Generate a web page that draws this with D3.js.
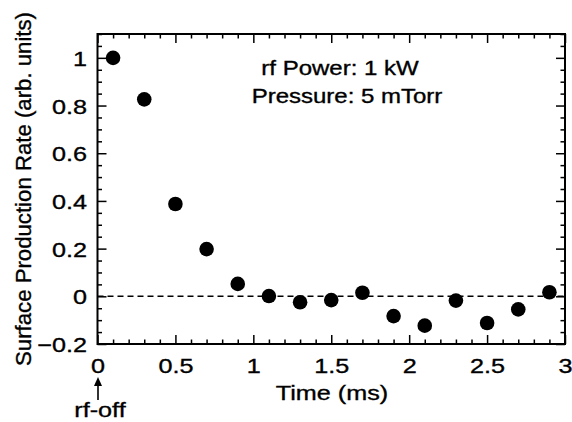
<!DOCTYPE html>
<html>
<head>
<meta charset="utf-8">
<script src="https://cdn.jsdelivr.net/npm/d3@7"></script>
<style>
  body { margin: 0; background: #fff; }
  text { font-family: "Liberation Sans", Arial, Helvetica, sans-serif; fill: #000; stroke: #000; stroke-width: 0.35px; }
</style>
</head>
<body>
<svg width="572" height="422"></svg>
<script>
// data
var times = [0.1, 0.3, 0.5, 0.7, 0.9, 1.1, 1.3, 1.5, 1.7, 1.9, 2.1, 2.3, 2.5, 2.7, 2.9];
var rates = [1.0, 0.826, 0.387, 0.198, 0.052, 0.001, -0.025, -0.016, 0.015, -0.083, -0.123, -0.018, -0.112, -0.055, 0.017];
var xTicks = [0, 0.5, 1, 1.5, 2, 2.5, 3];
var yTicks = [-0.2, 0, 0.2, 0.4, 0.6, 0.8, 1];
var notes = ["rf Power: 1 kW", "Pressure: 5 mTorr"];

var svg = d3.select("svg");
var sx = 1.2; // text in the figure is a bit wide

var pL = 97.5, pR = 565, pT = 34, pB = 344;

var x = d3.scaleLinear().domain([0, 3]).range([pL, pR]);
var y = d3.scaleLinear().domain([-0.2, 1.1]).range([pB, pT]);

// minor tick positions
var xMinor = d3.range(0, 3.0001, 0.1).filter(function (v) {
  return Math.abs(v * 2 - Math.round(v * 2)) > 1e-6;
});
var yMinor = d3.range(-0.2, 1.1001, 0.05).filter(function (v) {
  return Math.abs(v * 5 - Math.round(v * 5)) > 1e-6;
});

function axisG(axis, tx, ty) {
  var g = svg.append("g")
    .attr("transform", "translate(" + tx + "," + ty + ")")
    .call(axis);
  g.select(".domain").remove();
  g.selectAll(".tick line").attr("stroke", "#000").attr("stroke-width", 1.5);
  return g;
}

// bottom
var gx = axisG(d3.axisBottom(x).tickValues(xTicks).tickSizeInner(-9).tickSizeOuter(0)
  .tickPadding(0).tickFormat(d3.format("")), 0, pB);
axisG(d3.axisBottom(x).tickValues(xMinor).tickSize(-4.5).tickFormat(""), 0, pB);
// top
axisG(d3.axisTop(x).tickValues(xTicks).tickSize(-9).tickFormat(""), 0, pT);
axisG(d3.axisTop(x).tickValues(xMinor).tickSize(-4.5).tickFormat(""), 0, pT);
// left
var gy = axisG(d3.axisLeft(y).tickValues(yTicks).tickSizeInner(-9).tickSizeOuter(0)
  .tickPadding(10.5 / sx).tickFormat(d3.format("")), pL, 0);
axisG(d3.axisLeft(y).tickValues(yMinor).tickSize(-4.5).tickFormat(""), pL, 0);
// right
axisG(d3.axisRight(y).tickValues(yTicks).tickSize(-9).tickFormat(""), pR, 0);
axisG(d3.axisRight(y).tickValues(yMinor).tickSize(-4.5).tickFormat(""), pR, 0);

gx.selectAll(".tick text")
  .attr("font-size", 21)
  .attr("y", 0).attr("dy", 0)
  .attr("transform", "translate(0,29) scale(" + sx + ",1)");
gy.selectAll(".tick text")
  .attr("font-size", 21)
  .attr("dy", "0.36em")
  .attr("transform", "scale(" + sx + ",1)");
svg.selectAll(".tick text").attr("fill", "#000")
  .style("font-family", "'Liberation Sans', Arial, sans-serif");

// frame
svg.append("rect")
  .attr("x", pL).attr("y", pT)
  .attr("width", pR - pL).attr("height", pB - pT)
  .attr("fill", "none").attr("stroke", "#000").attr("stroke-width", 2);

// zero line
svg.append("line")
  .attr("x1", pL).attr("x2", pR)
  .attr("y1", y(0)).attr("y2", y(0))
  .attr("stroke", "#000").attr("stroke-width", 1.6)
  .attr("stroke-dasharray", "6,4");

// points
svg.selectAll(".pt").data(times).enter().append("circle")
  .attr("class", "pt")
  .attr("cx", function (d) { return x(d); })
  .attr("cy", function (d, i) { return y(rates[i]); })
  .attr("r", 7.3)
  .attr("fill", "#000");

// labels
function label(str, px, py, size, anchor) {
  return svg.append("text")
    .attr("transform", "translate(" + px + "," + py + ") scale(" + sx + ",1)")
    .attr("font-size", size)
    .attr("text-anchor", anchor || "middle")
    .text(str);
}
label(notes[0], 340, 75, 20);
label(notes[1], 347, 103, 20);
label("Time (ms)", 332, 400, 21);
label("rf-off", 100, 417, 21);

svg.append("text")
  .attr("transform", "translate(31,189) rotate(-90)")
  .attr("font-size", 22)
  .attr("text-anchor", "middle")
  .attr("textLength", 354)
  .attr("lengthAdjust", "spacingAndGlyphs")
  .text("Surface Production Rate (arb. units)");

// rf-off arrow
var ax = x(0) + 0.5;
svg.append("line")
  .attr("x1", ax).attr("x2", ax)
  .attr("y1", 400).attr("y2", 381)
  .attr("stroke", "#000").attr("stroke-width", 1.6);
svg.append("path")
  .attr("d", "M" + (ax - 4) + ",386 L" + ax + ",377 L" + (ax + 4) + ",386 Z")
  .attr("fill", "#000");
</script>
</body>
</html>
